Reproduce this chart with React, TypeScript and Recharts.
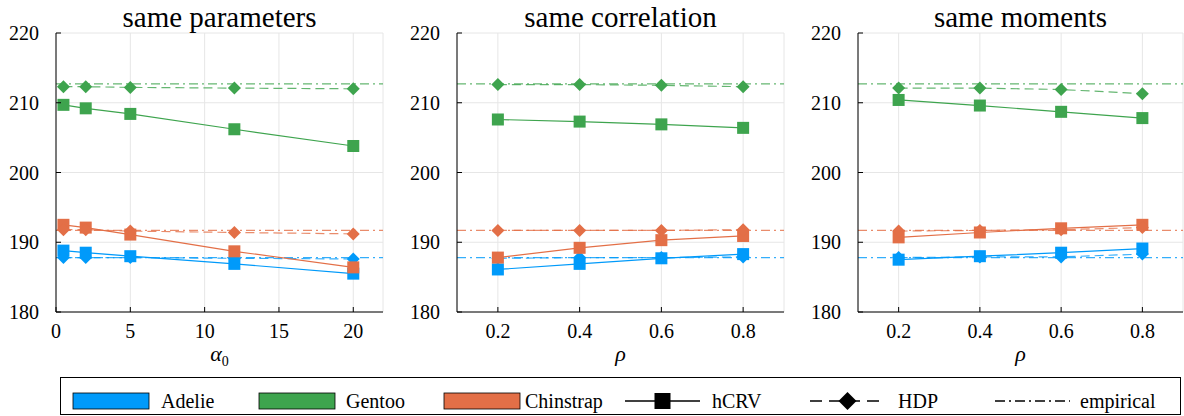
import React from "react";
import {
  LineChart,
  Line,
  XAxis,
  YAxis,
  CartesianGrid,
  ReferenceLine,
} from "recharts";

// x positions
const alphaValues = [0.5, 2, 5, 12, 20];
const rhoValues = [0.2, 0.4, 0.6, 0.8];

// same parameters
const paramAdelieHcrv = [188.8, 188.5, 188.0, 186.9, 185.5];
const paramAdelieHdp = [187.8, 187.8, 187.8, 187.7, 187.6];
const paramGentooHcrv = [209.7, 209.2, 208.4, 206.2, 203.8];
const paramGentooHdp = [212.3, 212.3, 212.2, 212.1, 212.0];
const paramChinstrapHcrv = [192.5, 192.1, 191.1, 188.7, 186.4];
const paramChinstrapHdp = [191.8, 191.8, 191.6, 191.4, 191.2];

// same correlation
const corrAdelieHcrv = [186.1, 186.9, 187.7, 188.3];
const corrAdelieHdp = [187.7, 187.8, 187.8, 187.9];
const corrGentooHcrv = [207.6, 207.3, 206.9, 206.4];
const corrGentooHdp = [212.6, 212.6, 212.5, 212.3];
const corrChinstrapHcrv = [187.8, 189.2, 190.3, 190.9];
const corrChinstrapHdp = [191.7, 191.7, 191.7, 191.8];

// same moments
const momAdelieHcrv = [187.5, 188.0, 188.5, 189.1];
const momAdelieHdp = [187.8, 187.9, 187.9, 188.3];
const momGentooHcrv = [210.4, 209.6, 208.7, 207.8];
const momGentooHdp = [212.1, 212.1, 211.9, 211.3];
const momChinstrapHcrv = [190.7, 191.4, 192.0, 192.5];
const momChinstrapHdp = [191.6, 191.7, 191.8, 192.1];

const species = ["Adelie", "Gentoo", "Chinstrap"];
const speciesColors = ["#009AFA", "#3EA44E", "#E36F47"];
const empiricalMeans = [187.8, 212.7, 191.7];

const yTicks = [180, 190, 200, 210, 220];
const alphaTicks = [0, 5, 10, 15, 20];
const rhoTicks = [0.2, 0.4, 0.6, 0.8];

const FONT = "'Liberation Serif', serif";
const txt = { fontFamily: FONT };
const Y_MARGIN = 17;
const X_MARGIN = 12;

const buildRows = (xs: number[], hcrv: number[][], hdp: number[][]) =>
  xs.map((x, i) => {
    const row: any = { x };
    species.forEach((s, k) => {
      row[s + "Hcrv"] = hcrv[k][i];
      row[s + "Hdp"] = hdp[k][i];
    });
    return row;
  });

const paramRows = buildRows(
  alphaValues,
  [paramAdelieHcrv, paramGentooHcrv, paramChinstrapHcrv],
  [paramAdelieHdp, paramGentooHdp, paramChinstrapHdp]
);
const corrRows = buildRows(
  rhoValues,
  [corrAdelieHcrv, corrGentooHcrv, corrChinstrapHcrv],
  [corrAdelieHdp, corrGentooHdp, corrChinstrapHdp]
);
const momRows = buildRows(
  rhoValues,
  [momAdelieHcrv, momGentooHcrv, momChinstrapHcrv],
  [momAdelieHdp, momGentooHdp, momChinstrapHdp]
);

const squareDot = (color: string) => (props: any) => {
  const { cx, cy, index } = props;
  if (cx == null || cy == null) return <g key={`s-${index}`} />;
  return (
    <rect key={`s-${index}`} x={cx - 6} y={cy - 6} width={12} height={12} fill={color} />
  );
};

const diamondDot = (color: string) => (props: any) => {
  const { cx, cy, index } = props;
  if (cx == null || cy == null) return <g key={`d-${index}`} />;
  const r = 6.5;
  return (
    <polygon
      key={`d-${index}`}
      points={`${cx},${cy - r} ${cx + r},${cy} ${cx},${cy + r} ${cx - r},${cy}`}
      fill={color}
    />
  );
};

const YTick = (props: any) => {
  const { x, y, payload } = props;
  const ax = x + Y_MARGIN;
  return (
    <g>
      <line x1={ax} x2={ax + 5} y1={y} y2={y} stroke="#000" />
      <text x={x} y={y} dy="0.36em" textAnchor="end" fontSize={20} style={txt} fill="#000">
        {payload.value}
      </text>
    </g>
  );
};

const XTick = (props: any) => {
  const { x, y, payload } = props;
  const ay = y - X_MARGIN;
  return (
    <g>
      <line x1={x} x2={x} y1={ay} y2={ay - 5} stroke="#000" />
      <text x={x} y={y + 14} textAnchor="middle" fontSize={20} style={txt} fill="#000">
        {payload.value}
      </text>
    </g>
  );
};

interface PanelProps {
  title: string;
  rows: any[];
  xDomain: [number, number];
  xTicks: number[];
  xLabel: React.ReactNode;
  left: number;
  width: number;
  yAxisWidth: number;
  marginRight: number;
}

const Panel: React.FC<PanelProps> = ({
  title,
  rows,
  xDomain,
  xTicks,
  xLabel,
  left,
  width,
  yAxisWidth,
  marginRight,
}) => {
  const plotLeft = yAxisWidth;
  const plotWidth = width - yAxisWidth - marginRight;
  return (
    <div style={{ position: "absolute", left, top: 0, width, height: 370 }}>
      <LineChart
        width={width}
        height={370}
        data={rows}
        margin={{ top: 33, right: marginRight, left: 0, bottom: 0 }}
      >
        <CartesianGrid stroke="#e6e6e6" />
        <XAxis
          dataKey="x"
          type="number"
          domain={xDomain}
          ticks={xTicks}
          allowDataOverflow
          height={58}
          tickSize={0}
          tickMargin={X_MARGIN}
          tickLine={false}
          axisLine={{ stroke: "#000" }}
          tick={<XTick />}
        />
        <YAxis
          type="number"
          domain={[180, 220]}
          ticks={yTicks}
          allowDataOverflow
          width={yAxisWidth}
          tickSize={0}
          tickMargin={Y_MARGIN}
          tickLine={false}
          axisLine={{ stroke: "#000" }}
          tick={<YTick />}
        />
        {species.map((s, k) => [
          <Line
            key={s + "Hcrv"}
            type="linear"
            dataKey={s + "Hcrv"}
            stroke={speciesColors[k]}
            strokeWidth={1.2}
            dot={squareDot(speciesColors[k])}
            activeDot={false}
            isAnimationActive={false}
          />,
          <Line
            key={s + "Hdp"}
            type="linear"
            dataKey={s + "Hdp"}
            stroke={speciesColors[k]}
            strokeOpacity={0.8}
            strokeWidth={1.2}
            strokeDasharray="9 5"
            dot={diamondDot(speciesColors[k])}
            activeDot={false}
            isAnimationActive={false}
          />,
          <ReferenceLine
            key={s + "Emp"}
            y={empiricalMeans[k]}
            stroke={speciesColors[k]}
            strokeOpacity={0.8}
            strokeWidth={1.2}
            strokeDasharray="9 4 2 4"
          />,
        ])}
      </LineChart>
      <div
        style={{
          position: "absolute",
          left: plotLeft,
          width: plotWidth,
          top: 2,
          textAlign: "center",
          fontSize: 29,
          lineHeight: "30px",
          fontFamily: FONT,
          whiteSpace: "nowrap",
        }}
      >
        {title}
      </div>
      <div
        style={{
          position: "absolute",
          left: plotLeft,
          width: plotWidth,
          top: 342,
          textAlign: "center",
          fontSize: 22,
          lineHeight: "24px",
          fontFamily: FONT,
        }}
      >
        {xLabel}
      </div>
    </div>
  );
};

const Legend: React.FC = () => {
  const colStarts = [73, 259, 444, 625, 810, 995];
  const textStarts = [161, 346, 525, 712, 898, 1080];
  const boxLeft = 60;
  const midY = 24;
  return (
    <svg
      style={{ position: "absolute", left: boxLeft, top: 377 }}
      width={1121}
      height={39}
    >
      <rect x={0.5} y={0.5} width={1120} height={37} fill="#fff" stroke="#000" />
      {species.map((s, k) => (
        <g key={s}>
          <rect
            x={colStarts[k] - boxLeft}
            y={midY - 8}
            width={76}
            height={16}
            fill={speciesColors[k]}
            stroke="#000"
            strokeWidth={0.8}
          />
          <text x={textStarts[k] - boxLeft} y={midY + 6.5} fontSize={20} style={txt}>
            {s}
          </text>
        </g>
      ))}
      <line x1={colStarts[3] - boxLeft} x2={colStarts[3] - boxLeft + 75} y1={midY} y2={midY} stroke="#000" strokeWidth={1.5} />
      <rect x={colStarts[3] - boxLeft + 37.5 - 8} y={midY - 8} width={16} height={16} fill="#000" />
      <text x={textStarts[3] - boxLeft} y={midY + 6.5} fontSize={20} style={txt}>
        hCRV
      </text>
      <line x1={colStarts[4] - boxLeft} x2={colStarts[4] - boxLeft + 75} y1={midY} y2={midY} stroke="#000" strokeWidth={1.5} strokeDasharray="12 7" />
      <polygon
        points={`${colStarts[4] - boxLeft + 37.5},${midY - 9} ${colStarts[4] - boxLeft + 46.5},${midY} ${colStarts[4] - boxLeft + 37.5},${midY + 9} ${colStarts[4] - boxLeft + 28.5},${midY}`}
        fill="#000"
      />
      <text x={textStarts[4] - boxLeft} y={midY + 6.5} fontSize={20} style={txt}>
        HDP
      </text>
      <line x1={colStarts[5] - boxLeft} x2={colStarts[5] - boxLeft + 75} y1={midY} y2={midY} stroke="#000" strokeWidth={1.5} strokeDasharray="10 4 2 4" />
      <text x={textStarts[5] - boxLeft} y={midY + 6.5} fontSize={20} style={txt}>
        empirical
      </text>
    </svg>
  );
};

const App: React.FC = () => {
  const alphaLabel = (
    <span>
      <span style={{ fontStyle: "italic" }}>α</span>
      <span style={{ fontSize: 14, position: "relative", top: 5 }}>0</span>
    </span>
  );
  const rhoLabel = <span style={{ fontStyle: "italic" }}>ρ</span>;
  return (
    <div
      style={{
        position: "absolute",
        left: 0,
        top: 0,
        width: 1184,
        height: 416,
        background: "#fff",
        overflow: "hidden",
        fontFamily: FONT,
      }}
    >
      <Panel
        title="same parameters"
        rows={paramRows}
        xDomain={[0, 22]}
        xTicks={alphaTicks}
        xLabel={alphaLabel}
        left={0}
        width={392}
        yAxisWidth={56}
        marginRight={9}
      />
      <Panel
        title="same correlation"
        rows={corrRows}
        xDomain={[0.1, 0.9]}
        xTicks={rhoTicks}
        xLabel={rhoLabel}
        left={400}
        width={392}
        yAxisWidth={57}
        marginRight={8}
      />
      <Panel
        title="same moments"
        rows={momRows}
        xDomain={[0.1, 0.9]}
        xTicks={rhoTicks}
        xLabel={rhoLabel}
        left={800}
        width={384}
        yAxisWidth={58}
        marginRight={1}
      />
      <Legend />
    </div>
  );
};

export default App;
